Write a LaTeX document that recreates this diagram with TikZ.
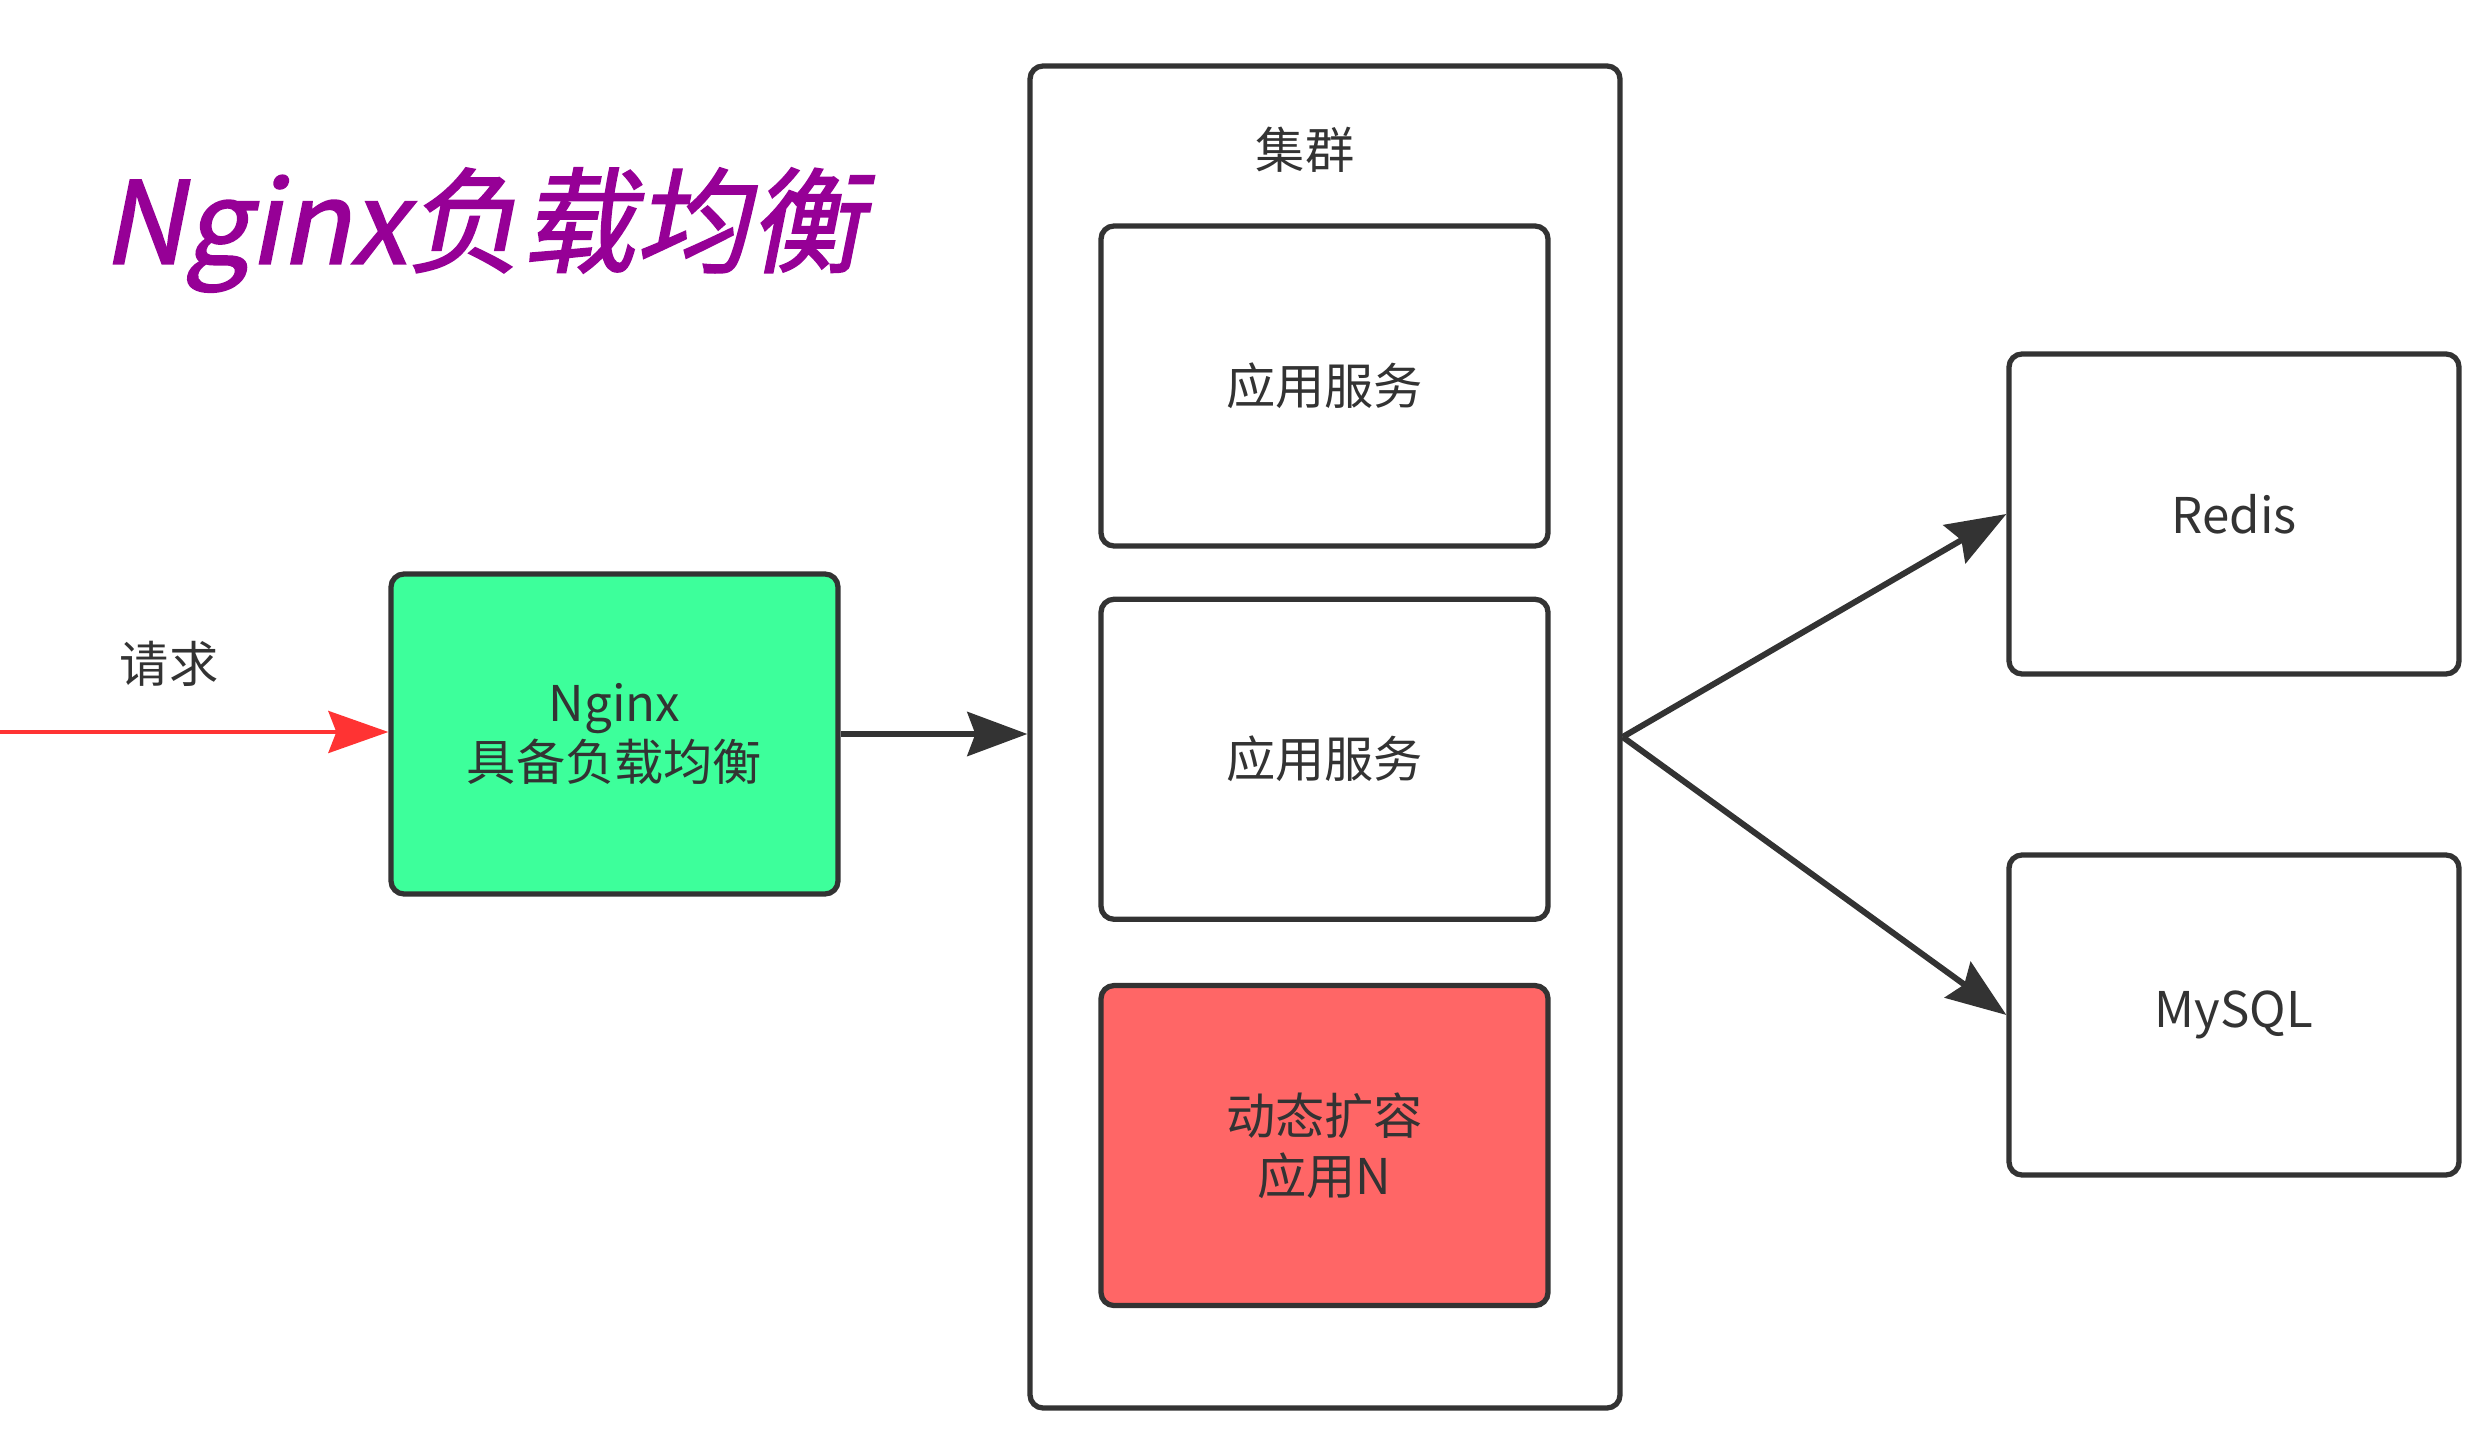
\documentclass[tikz,border=0pt]{standalone}
\usepackage{fontspec}
\setmainfont{Noto Sans CJK SC}
\newfontfamily\titlefont[FakeSlant=0.2,FakeBold=1.5]{Noto Sans CJK SC}
\usetikzlibrary{arrows.meta,positioning}
\definecolor{boxline}{RGB}{51,51,51}
\definecolor{ngxgreen}{RGB}{61,255,155}
\definecolor{appred}{RGB}{255,102,102}
\definecolor{reqred}{RGB}{255,51,51}
\definecolor{ttlpurple}{RGB}{150,0,150}
\tikzset{
    box/.style={
        rectangle,
        rounded corners=1.3mm,
        line width=1.5pt,
        draw=boxline,
        fill=white,
        text=boxline,
        align=center,
        minimum width=4.47cm,
        minimum height=3.2cm,
        font=\fontsize{14}{17}\selectfont,
    },
    lb/.style={
        box,
        fill=ngxgreen,
    },
    scaled-app/.style={
        box,
        fill=appred,
    },
    cluster/.style={
        box,
        minimum width=5.9cm,
        minimum height=13.42cm,
    },
    lbl/.style={
        text=boxline,
        font=\fontsize{14}{17}\selectfont,
    },
    every edge/.style={
        draw=boxline,
        -{Stealth[length=6mm,width=4.4mm,inset=0.8mm]},
        line width=1.7pt,
    },
    request/.style={
        draw=reqred,
        -{Stealth[length=6mm,width=4.2mm,inset=0.8mm,fill=reqred]},
        line width=1.1pt,
    },
    node distance=0.5cm,
}
\begin{document}
\begin{tikzpicture}
    \useasboundingbox (0,0) rectangle (24.8,14.4);
    \node [text=ttlpurple, font=\titlefont\fontsize{32.5}{38}\selectfont] at (4.83,12.1) (Ttl) {Nginx负载均衡};
    \node [cluster] at (13.25,7.03) (Clu) {};
    \node [lbl] at (13.05,12.9) (CluT) {集群};
    \node [box] at (13.245,10.54) (A1) {应用服务};
    \node [box, below=0.48cm of A1] (A2) {应用服务};
    \node [scaled-app, below=0.61cm of A2] (AN) {动态扩容\\应用N};
    \node [lb] at (6.145,7.06) (Ngx) {Nginx\\具备负载均衡};
    \node [box, minimum width=4.5cm] at (22.34,9.26) (Rds) {Redis};
    \node [box, minimum width=4.5cm] at (22.34,4.25) (Sql) {MySQL};
    \coordinate (Src) at (0,7.08);
    \node [lbl] at (1.69,7.76) (Req) {请求};
    \draw (Src) edge[request] (Ngx.west |- Src);
    \draw (Ngx.east) edge (Ngx.east -| Clu.west);
    \draw (Clu.east) edge (Rds.west);
    \draw (Clu.east) edge (Sql.west);
\end{tikzpicture}
\end{document}
